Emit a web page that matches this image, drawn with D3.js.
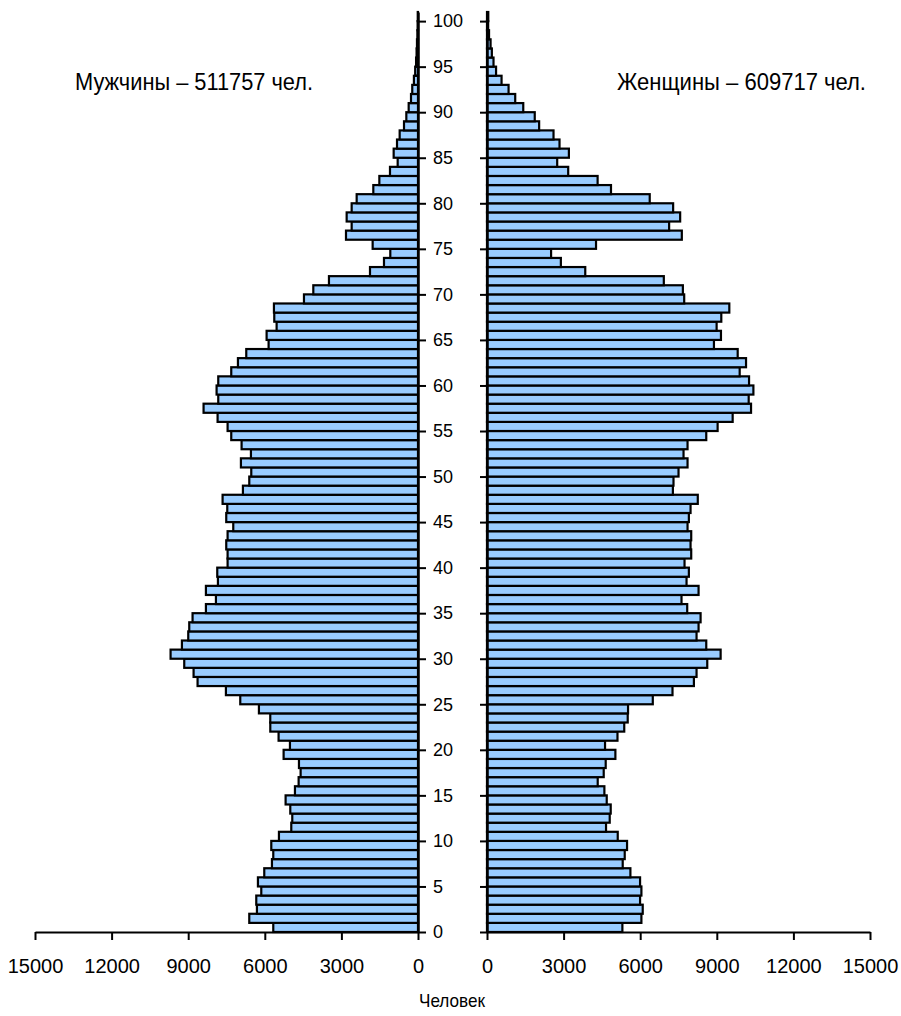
<!DOCTYPE html>
<html>
<head>
<meta charset="utf-8">
<script src="https://cdn.jsdelivr.net/npm/d3@7"></script>
<style>
  html, body { margin: 0; padding: 0; background: #ffffff; }
  svg { display: block; font-family: "Liberation Sans", Arial, sans-serif; }
</style>
</head>
<body>
<svg id="chart" width="901" height="1016"></svg>
<script>
// Ages 0..100
const ages = d3.range(0, 101);

// Male population by single year of age (0..100)
const male = [
  5668, 6608, 6308, 6334, 6138, 6269, 6021, 5720, 5668, 5746,
  5446, 4963, 4924, 5002, 5185, 4819, 4675, 4597, 4662, 5263,
  5015, 5460, 5785, 5786, 6230, 6961, 7523, 8633, 8789, 9155,
  9690, 9246, 8998, 8959, 8829, 8306, 7914, 8306, 7836, 7862,
  7457, 7457, 7510, 7457, 7235, 7510, 7470, 7653, 6857, 6608,
  6530, 6935, 6543, 6909, 7314, 7457, 7849, 8398, 7823, 7888,
  7823, 7314, 7052, 6726, 5851, 5929, 5537, 5629, 5642, 4466,
  4100, 3487, 1880, 1332, 1085, 1776, 2820, 2598, 2794, 2598,
  2402, 1750, 1514, 1097, 796, 953, 822, 718, 548, 457,
  365, 274, 225, 160, 110, 75, 55, 40, 25, 15,
  10
];

// Female population by single year of age (0..100)
const female = [
  5302, 6047, 6099, 5995, 6047, 5995, 5616, 5315, 5394, 5485,
  5120, 4662, 4806, 4845, 4689, 4597, 4336, 4571, 4649, 5028,
  4623, 5110, 5375, 5511, 5524, 6493, 7265, 8103, 8207, 8626,
  9150, 8587, 8207, 8286, 8365, 7841, 7618, 8286, 7815, 7906,
  7736, 7998, 7972, 7998, 7854, 7906, 7972, 8255, 7280, 7304,
  7501, 7854, 7697, 7854, 8587, 9032, 9621, 10341, 10249, 10433,
  10263, 9896, 10145, 9818, 8888, 9163, 8993, 9176, 9490, 7723,
  7671, 6925, 3848, 2893, 2510, 4270, 7630, 7133, 7565, 7290,
  6373, 4856, 4332, 3180, 2749, 3207, 2840, 2605, 2042, 1870,
  1420, 1105, 845, 570, 355, 255, 190, 140, 80, 45,
  50
];

const xTicks = [0, 3000, 6000, 9000, 12000, 15000];
const ageTicks = d3.range(0, 101, 5);

const maleLabel = "Мужчины – 511757 чел.";
const femaleLabel = "Женщины – 609717 чел.";
const xTitle = "Человек";

// Layout
const yBottom = 932, yTop = 12;
const maleZero = 418, maleEnd = 35;
const femZero = 487, femEnd = 870;

const svg = d3.select("#chart");

const y = d3.scaleBand().domain(ages).range([yBottom, yTop]).paddingInner(0).paddingOuter(0);
const yEdge = d3.scaleLinear().domain([0, 101]).range([yBottom, yTop]);
const xM = d3.scaleLinear().domain([0, 15000]).range([maleZero, maleEnd]);
const xF = d3.scaleLinear().domain([0, 15000]).range([femZero, femEnd]);

const barFill = "#99ccff";
const barStroke = "#000000";

// Male bars
svg.append("g").selectAll("rect")
  .data(ages)
  .join("rect")
  .attr("x", d => xM(male[d]))
  .attr("y", d => y(d))
  .attr("width", d => xM(0) - xM(male[d]))
  .attr("height", y.bandwidth())
  .attr("fill", barFill)
  .attr("stroke", barStroke)
  .attr("stroke-width", 2.2);

// Female bars
svg.append("g").selectAll("rect")
  .data(ages)
  .join("rect")
  .attr("x", xF(0))
  .attr("y", d => y(d))
  .attr("width", d => xF(female[d]) - xF(0))
  .attr("height", y.bandwidth())
  .attr("fill", barFill)
  .attr("stroke", barStroke)
  .attr("stroke-width", 2.2);

// Male vertical axis with age labels (to the right)
const ageAxisM = svg.append("g")
  .attr("transform", `translate(${maleZero},0)`)
  .call(d3.axisRight(yEdge).tickValues(ageTicks).tickSize(8).tickSizeOuter(0).tickPadding(7).tickFormat(d3.format("d")));
ageAxisM.select(".domain").attr("stroke", "#000").attr("stroke-width", 2.5);
ageAxisM.selectAll(".tick line").attr("stroke", "#000").attr("stroke-width", 2);
ageAxisM.selectAll(".tick text")
  .attr("font-size", 18).attr("fill", "#000")
  .attr("font-family", "'Liberation Sans', Arial, sans-serif");

// Female vertical axis (ticks to the left, no labels)
const ageAxisF = svg.append("g")
  .attr("transform", `translate(${femZero},0)`)
  .call(d3.axisLeft(yEdge).tickValues(ageTicks).tickSize(7).tickSizeOuter(0).tickFormat(""));
ageAxisF.select(".domain").attr("stroke", "#000").attr("stroke-width", 2.5);
ageAxisF.selectAll(".tick line").attr("stroke", "#000").attr("stroke-width", 2);

// Bottom axes
function styleX(g) {
  g.select(".domain").attr("stroke", "#000").attr("stroke-width", 2);
  g.selectAll(".tick line").attr("stroke", "#000").attr("stroke-width", 2);
  g.selectAll(".tick text")
    .attr("font-size", 20).attr("fill", "#000")
    .attr("font-family", "'Liberation Sans', Arial, sans-serif");
}
svg.append("g")
  .attr("transform", `translate(0,${yBottom})`)
  .call(d3.axisBottom(xM).tickValues(xTicks).tickSize(8).tickSizeOuter(0).tickPadding(19).tickFormat(d3.format("d")))
  .call(styleX);
svg.append("g")
  .attr("transform", `translate(0,${yBottom})`)
  .call(d3.axisBottom(xF).tickValues(xTicks).tickSize(8).tickSizeOuter(0).tickPadding(19).tickFormat(d3.format("d")))
  .call(styleX);

// Titles
svg.append("text")
  .attr("x", 75).attr("y", 90)
  .attr("font-size", 24)
  .attr("textLength", 238).attr("lengthAdjust", "spacingAndGlyphs")
  .attr("fill", "#000")
  .text(maleLabel);
svg.append("text")
  .attr("x", 617).attr("y", 90)
  .attr("font-size", 24)
  .attr("textLength", 249).attr("lengthAdjust", "spacingAndGlyphs")
  .attr("fill", "#000")
  .text(femaleLabel);

svg.append("text")
  .attr("x", 452).attr("y", 1007)
  .attr("text-anchor", "middle")
  .attr("font-size", 19)
  .attr("textLength", 66).attr("lengthAdjust", "spacingAndGlyphs")
  .attr("fill", "#000")
  .text(xTitle);
</script>
</body>
</html>
